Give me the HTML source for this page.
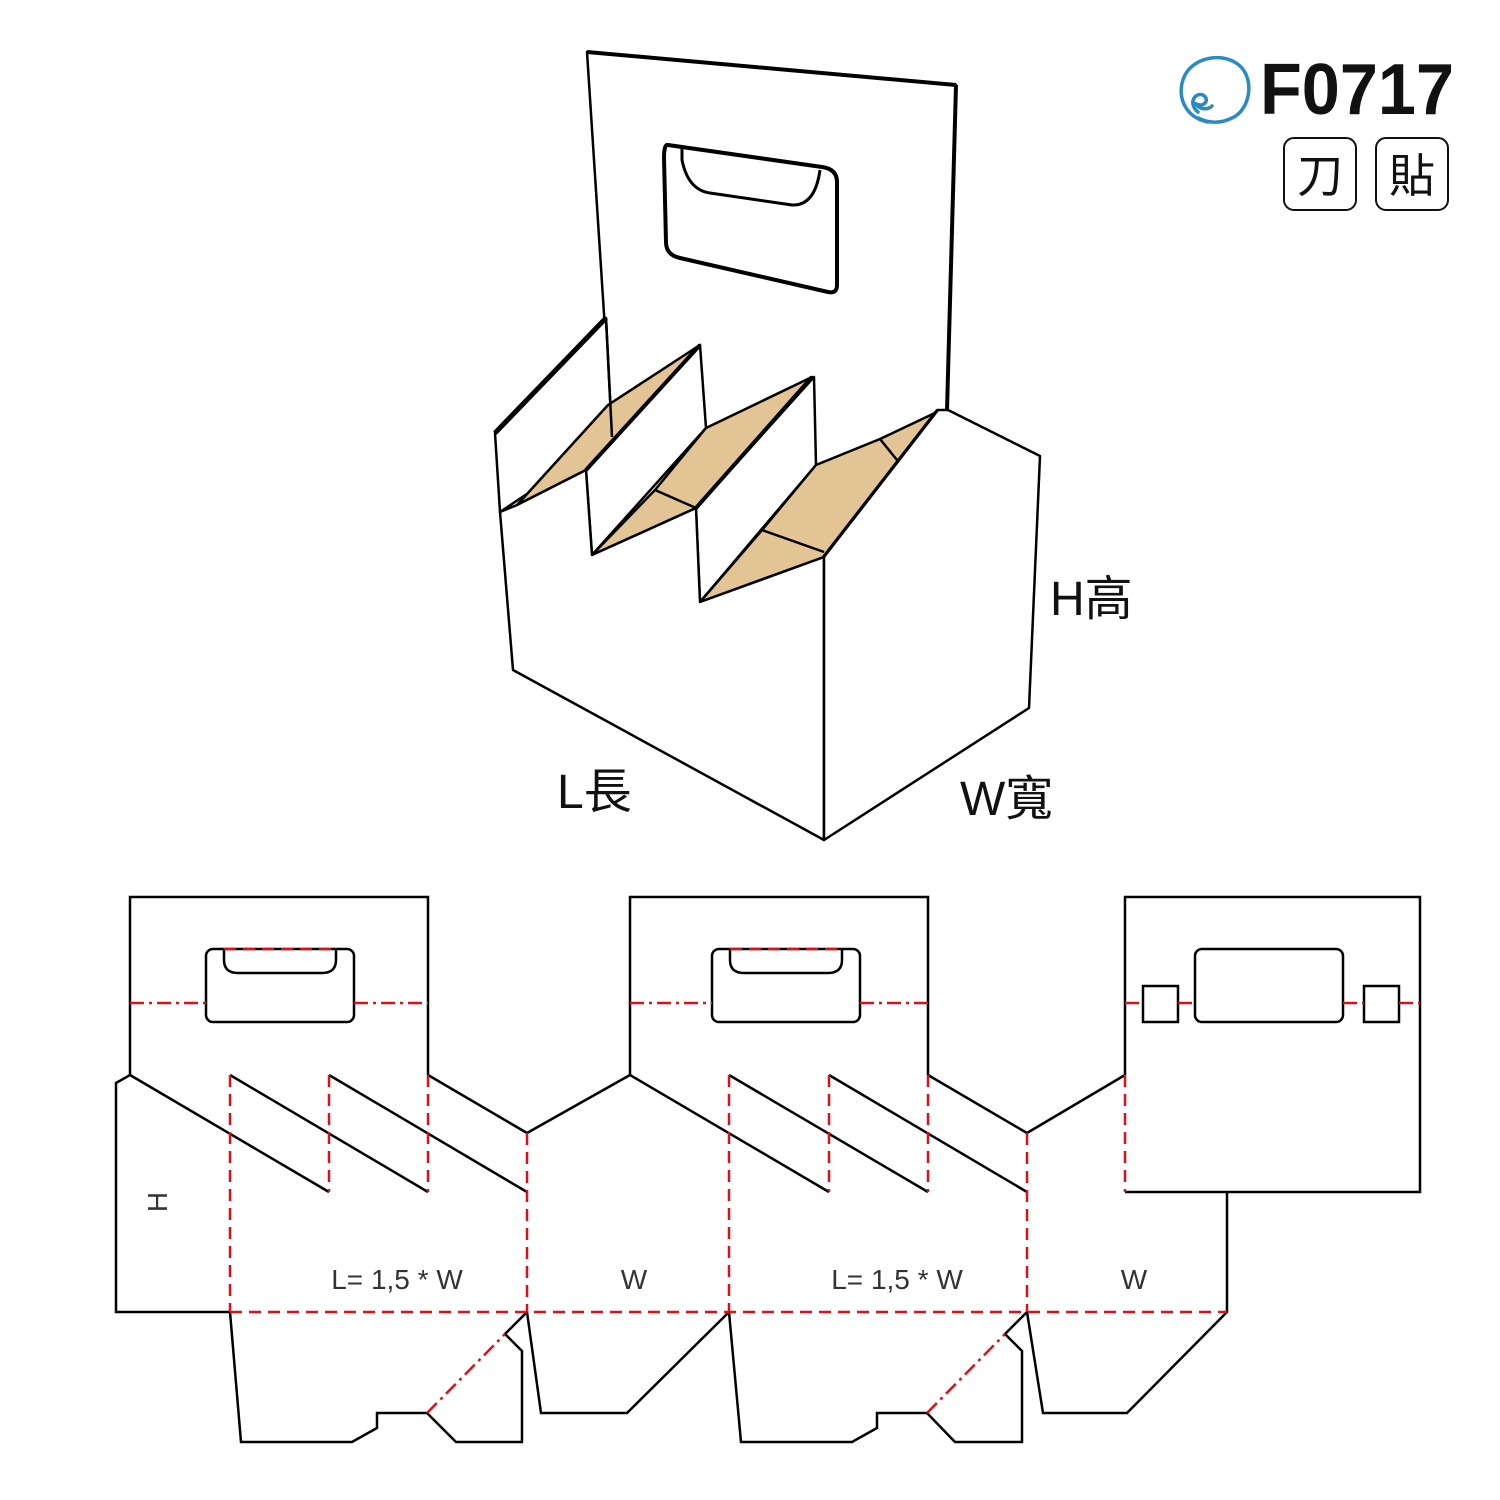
<!DOCTYPE html>
<html><head><meta charset="utf-8"><style>
html,body{margin:0;padding:0;background:#fff;}
svg{display:block}
text{font-family:"Liberation Sans","Noto Sans CJK TC",sans-serif;}
</style></head><body>
<svg width="1500" height="1500" viewBox="0 0 1500 1500" xmlns="http://www.w3.org/2000/svg">
<rect width="1500" height="1500" fill="#fff"/>
<!-- logo -->
<g fill="none" stroke="#2a8bc4" stroke-width="3.5" stroke-linecap="round">
<path d="M1208,122 C1185,118 1175,95 1185,75 C1195,56 1225,52 1240,66 C1255,80 1250,110 1232,118 C1222,123 1210,124 1198,118"/>
<path d="M1198,112 C1188,104 1194,92 1203,95 C1210,99 1205,108 1196,104 C1200,110 1208,110 1212,106"/>
</g>
<text x="1260" y="114" font-size="72" font-weight="bold" fill="#111" textLength="194" lengthAdjust="spacingAndGlyphs">F0717</text>
<rect x="1284" y="138" width="72" height="72" rx="10" fill="none" stroke="#111" stroke-width="2"/>
<rect x="1376" y="138" width="72" height="72" rx="10" fill="none" stroke="#111" stroke-width="2"/>
<text x="1320" y="192" font-size="46" text-anchor="middle" fill="#111">刀</text>
<text x="1412" y="192" font-size="46" text-anchor="middle" fill="#111">貼</text>

<!-- 3D box -->
<g stroke="#000" stroke-width="2.5" fill="#fff" stroke-linejoin="round">
<path d="M612,437 L587,52 L956,85 L947,410" fill="#fff"/>
<path d="M587,52 L956,85" stroke-width="4"/>
<path d="M956,85 L947,410" stroke-width="4"/>
<path d="M668,145 L822,167 Q837,169 837,182 L837,285 Q837,294 828,292 L680,258 Q666,255 666,242 L664,158 Q664,144 668,145 Z" fill="#fff" stroke-width="4"/>
<path d="M682,148 L682,160 Q688,190 710,193 L792,205 Q815,206 820,170" fill="none" stroke-width="3"/>
<path d="M495,433 L606,318 L612,437 L500,512 Z"/>
<path d="M495,433 L606,318" stroke-width="5"/>
<path d="M517,505 L608,405 L700,345 L586,470 Z" fill="#e2c495"/>
<path d="M606,318 L612,437" fill="none"/>
<path d="M700,345 L706,428 L592,555 L586,470 Z"/>
<path d="M592,555 L655,490 L706,428 L812,377 L696,508 Z" fill="#e2c495"/>
<path d="M655,490 L696,508" fill="none"/>
<path d="M586,470 L700,345" fill="none" stroke-width="4"/>
<path d="M814,377 L816,465 L700,602 L696,508 Z"/>
<path d="M696,508 L812,377" fill="none" stroke-width="4"/>
<path d="M700,602 L762,530 L816,465 L880,439 L937,412 L824,557 Z" fill="#e2c495"/>
<path d="M762,530 L824,552 M880,439 L897,460" fill="none"/>
<path d="M824,557 L938,410" fill="none" stroke-width="4"/>
<path d="M500,512 L517,505 L586,470 L592,555 L696,508 L700,602 L824,557 L824,840 L513,670 Z"/>
<path d="M824,557 L938,410 L948,410 L1040,456 L1029,708 L824,840 Z"/>
</g>
<text x="1050" y="615" font-size="48" fill="#111">H高</text>
<text x="557" y="808" font-size="48" fill="#111">L長</text>
<text x="960" y="815" font-size="48" fill="#111">W寬</text>

<!-- dieline -->
<g fill="none" stroke="#000" stroke-width="2.5" stroke-linejoin="miter">
<path d="M130,1075 L130,897 L428,897 L428,1075"/>
<path d="M130,1075 L116,1083 L116,1312 L230,1312"/>
<path d="M130,1075 L329,1192 M230,1075 L428,1192 M329,1075 L527,1192 M428,1075 L527,1133 L630,1075"/>
<path d="M230,1312 L241,1442 L352,1442 L377,1428 L377,1413 L427,1413 L456,1442 L522,1442 L522,1351 L505,1334 L527,1312 L541,1413 L627,1413 L729,1312"/>
<rect x="206" y="949" width="148" height="73" rx="7"/>
<path d="M224,949 L224,960 Q224,973 238,973 L322,973 Q336,973 336,960 L336,949"/>
<path d="M630,1075 L630,897 L928,897 L928,1075"/>
<path d="M630,1075 L829,1192 M729,1075 L928,1192 M829,1075 L1027,1192 M928,1075 L1027,1133 L1125,1075"/>
<path d="M729,1312 L741,1442 L852,1442 L877,1428 L877,1413 L927,1413 L955,1442 L1022,1442 L1022,1351 L1005,1334 L1027,1312 L1043,1413 L1127,1413 L1227,1312 L1227,1192"/>
<rect x="712" y="949" width="148" height="73" rx="7"/>
<path d="M730,949 L730,960 Q730,973 744,973 L828,973 Q842,973 842,960 L842,949"/>
<path d="M1125,1075 L1125,897 L1420,897 L1420,1192 L1125,1192"/>
<rect x="1195" y="949" width="148" height="73" rx="7"/>
<rect x="1143" y="986" width="35" height="36"/>
<rect x="1364" y="986" width="35" height="36"/>
</g>
<g fill="none" stroke="#d9111b" stroke-width="2.5" stroke-dasharray="12,7">
<path d="M230,1075 L230,1312 M329,1075 L329,1192 M428,1075 L428,1192 M527,1133 L527,1312"/>
<path d="M729,1075 L729,1312 M829,1075 L829,1192 M928,1075 L928,1192 M1027,1133 L1027,1312 M1125,1075 L1125,1192"/>
<path d="M230,1312 L1227,1312"/>
<path d="M224,949 L336,949 M730,949 L842,949"/>
</g>
<g fill="none" stroke="#d9111b" stroke-width="2.5" stroke-dasharray="14,5,3,5">
<path d="M130,1003 L206,1003 M354,1003 L428,1003 M630,1003 L712,1003 M860,1003 L928,1003"/>
<path d="M1125,1003 L1143,1003 M1178,1003 L1195,1003 M1343,1003 L1364,1003 M1399,1003 L1420,1003"/>
<path d="M427,1413 L505,1334 M927,1413 L1005,1334"/>
</g>
<g font-size="28" fill="#333">
<text x="397" y="1289" text-anchor="middle">L= 1,5 * W</text>
<text x="634" y="1289" text-anchor="middle">W</text>
<text x="897" y="1289" text-anchor="middle">L= 1,5 * W</text>
<text x="1134" y="1289" text-anchor="middle">W</text>
<text x="157" y="1202" text-anchor="middle" transform="rotate(-90 157 1202)" dy="10">H</text>
</g>
</svg>
</body></html>
